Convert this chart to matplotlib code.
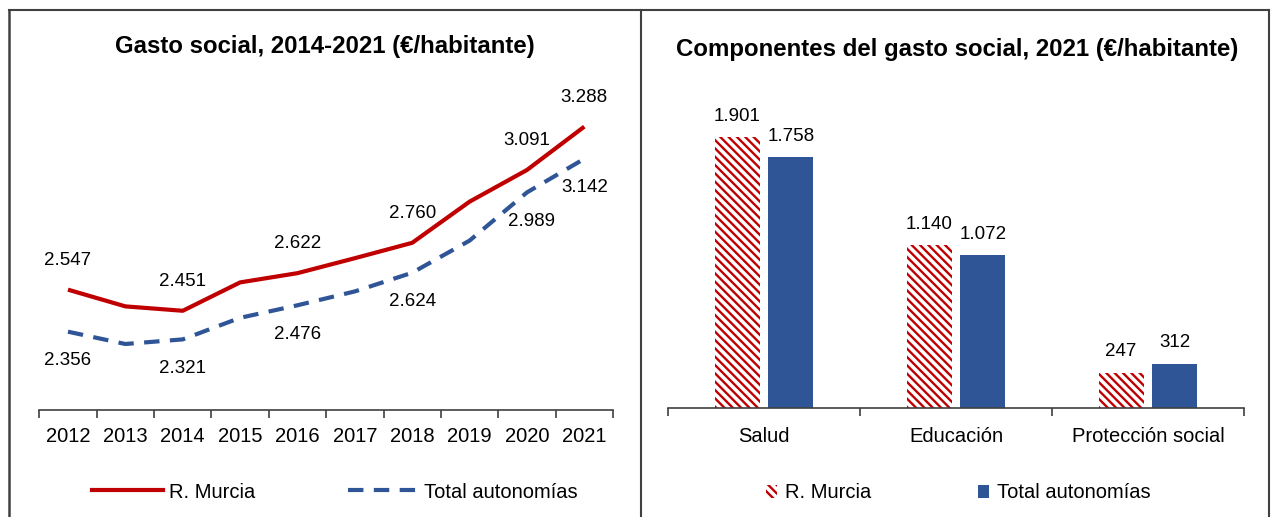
import matplotlib
matplotlib.use("Agg")
import matplotlib.pyplot as plt
from matplotlib.lines import Line2D
from matplotlib.patches import Patch
import numpy as np

plt.rcParams['font.family'] = ['Liberation Sans', 'DejaVu Sans']
plt.rcParams['hatch.linewidth'] = 1.7

# ---- data ----
years = ['2012', '2013', '2014', '2015', '2016', '2017', '2018', '2019', '2020', '2021']
murcia = [2547, 2471, 2451, 2580, 2622, 2690, 2760, 2947, 3091, 3288]
total = [2356, 2300, 2321, 2419, 2476, 2539, 2624, 2770, 2989, 3142]
labelled_years = ['2012', '2014', '2016', '2018', '2020', '2021']

components = ['Salud', 'Educación', 'Protección social']
comp_murcia = [1901, 1140, 247]
comp_total = [1758, 1072, 312]

series_names = ['R. Murcia', 'Total autonomías']
title_left = 'Gasto social, 2014-2021 (€/habitante)'
title_right = 'Componentes del gasto social, 2021 (€/habitante)'

RED = '#C00000'
BLUE = '#2F5597'
HATCH = '\\\\\\\\'

def fmt(v):
    return f"{v:,}".replace(',', '.')

W, H = 1271, 517
fig = plt.figure(figsize=(W / 100, H / 100), dpi=100)

def fx(px):
    return px / W

def fy(py):
    return 1 - py / H

# ---- panel borders ----
bc = '#404040'
fig.add_artist(Line2D([fx(9), fx(1269)], [fy(10), fy(10)], color=bc, lw=1.5))
fig.add_artist(Line2D([fx(9), fx(9)], [fy(10), fy(517)], color=bc, lw=1.8))
fig.add_artist(Line2D([fx(641), fx(641)], [fy(10), fy(517)], color=bc, lw=1.5))
fig.add_artist(Line2D([fx(1269), fx(1269)], [fy(10), fy(517)], color=bc, lw=1.5))

# ---- left: line chart ----
ax1 = fig.add_axes([fx(39.3), fy(410), fx(613) - fx(39.3), fy(80) - fy(410)])
x = np.arange(len(years))
ax1.plot(x, murcia, color=RED, lw=3, solid_capstyle='butt')
ax1.plot(x, total, color=BLUE, lw=3, linestyle=(0, (3.7, 2.5)), dash_capstyle='butt')
ax1.set_xlim(-0.5, len(years) - 0.5)
ax1.set_ylim(2000, 3500)
for s in ['top', 'right', 'left']:
    ax1.spines[s].set_visible(False)
ax1.spines['bottom'].set_color('#404040')
ax1.spines['bottom'].set_linewidth(1.2)
ax1.set_yticks([])
ax1.set_xticks(np.arange(-0.5, len(years), 1.0))
ax1.set_xticks(x, minor=True)
ax1.set_xticklabels([])
ax1.set_xticklabels(years, minor=True)
ax1.tick_params(axis='x', which='major', length=6, width=1.2, color='#404040', direction='out')
ax1.tick_params(axis='x', which='minor', length=0, pad=12, labelsize=14.5)
for i, yr in enumerate(years):
    if yr in labelled_years:
        ax1.annotate(fmt(murcia[i]), (x[i], murcia[i]), xytext=(0, 21), textcoords='offset points',
                     ha='center', va='center', fontsize=13.5)
        dxb = 3 if yr == '2020' else 0
        ax1.annotate(fmt(total[i]), (x[i], total[i]), xytext=(dxb, -21), textcoords='offset points',
                     ha='center', va='center', fontsize=13.5)
fig.text(fx(325), fy(46), title_left, ha='center', va='center', fontsize=17.3, fontweight='bold')

h1 = [Line2D([], [], color=RED, lw=3), Line2D([], [], color=BLUE, lw=3, linestyle=(0, (3.7, 2.5)))]
fig.legend(h1, series_names, loc='center', bbox_to_anchor=(fx(335), fy(492)), ncol=2, frameon=False,
           fontsize=14.5, handlelength=3.5, handletextpad=0.3, columnspacing=4.6)

# ---- right: bar chart ----
ax2 = fig.add_axes([fx(668), fy(408), fx(1244) - fx(668), fy(80) - fy(408)])
xc = np.arange(len(components))
off, bw = 0.14, 0.234
ax2.bar(xc - off, comp_murcia, bw, facecolor='white', edgecolor=RED, hatch=HATCH, linewidth=0)
ax2.bar(xc + off, comp_total, bw, color=BLUE, linewidth=0)
ax2.set_xlim(-0.5, len(components) - 0.5)
ax2.set_ylim(0, 2300)
for s in ['top', 'right', 'left']:
    ax2.spines[s].set_visible(False)
ax2.spines['bottom'].set_color('#404040')
ax2.spines['bottom'].set_linewidth(1.2)
ax2.set_yticks([])
ax2.set_xticks(np.arange(-0.5, len(components), 1.0))
ax2.set_xticks(xc, minor=True)
ax2.set_xticklabels([])
ax2.set_xticklabels(components, minor=True)
ax2.tick_params(axis='x', which='major', length=6, width=1.2, color='#404040', direction='out')
ax2.tick_params(axis='x', which='minor', length=0, pad=14, labelsize=14.5)
for i in range(len(components)):
    ax2.annotate(fmt(comp_murcia[i]), (xc[i] - off, comp_murcia[i]), xytext=(0, 15), textcoords='offset points',
                 ha='center', va='center', fontsize=13.5)
    ax2.annotate(fmt(comp_total[i]), (xc[i] + off, comp_total[i]), xytext=(0, 15), textcoords='offset points',
                 ha='center', va='center', fontsize=13.5)
fig.text(fx(957), fy(50), title_right, ha='center', va='center', fontsize=17.3, fontweight='bold')

h2 = [Patch(facecolor='white', edgecolor=RED, hatch=HATCH, linewidth=0), Patch(facecolor=BLUE, linewidth=0)]
fig.legend(h2, series_names, loc='center', bbox_to_anchor=(fx(958), fy(493)), ncol=2, frameon=False,
           fontsize=14.5, handlelength=0.55, handleheight=0.6, handletextpad=0.4, columnspacing=5.3)

fig.savefig('out.png', dpi=100)
